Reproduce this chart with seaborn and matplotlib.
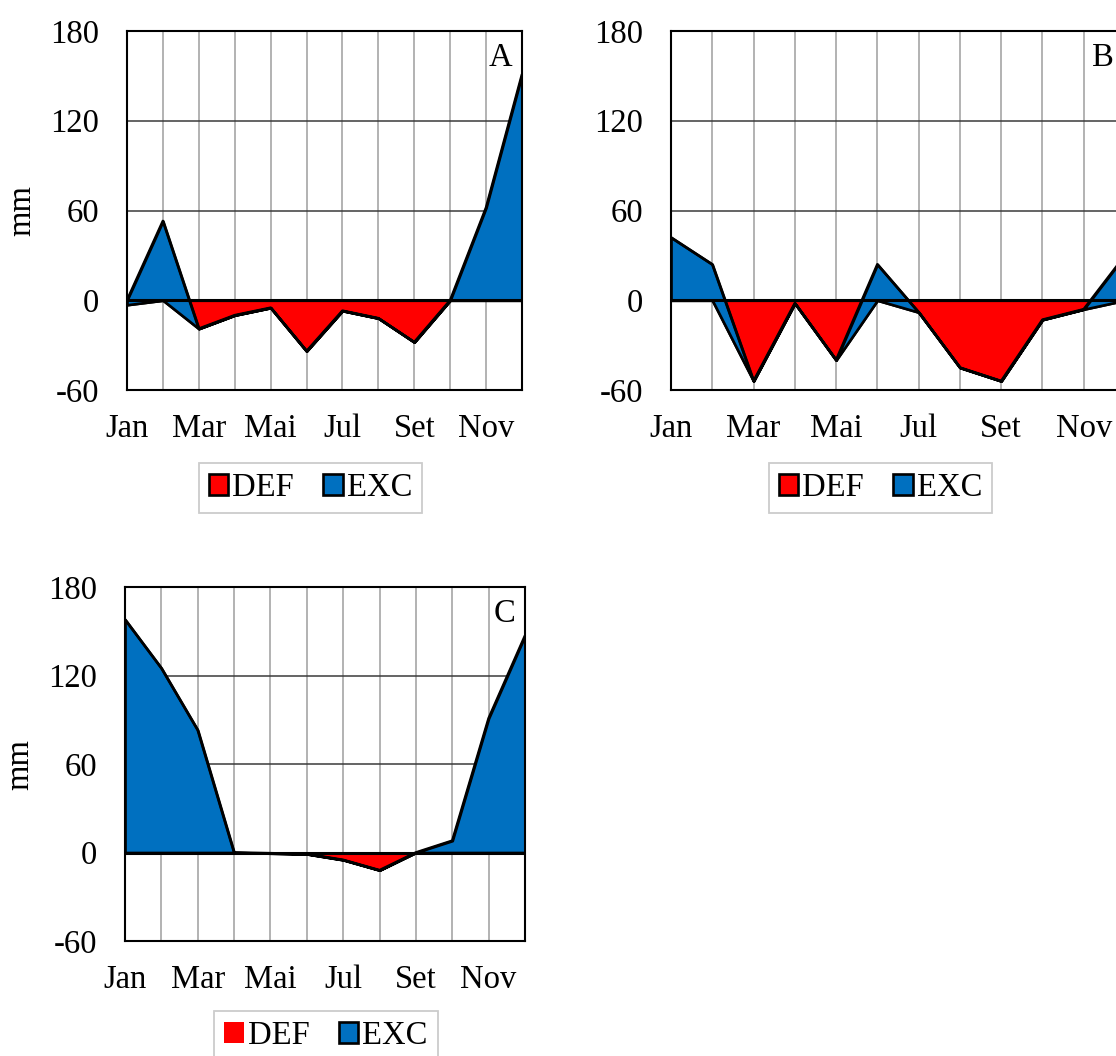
import matplotlib
matplotlib.use("Agg")
import matplotlib.pyplot as plt
from matplotlib.patches import Patch
import numpy as np
import pandas as pd
import seaborn as sns

# ---------------- data ----------------
months = ["Jan", "Fev", "Mar", "Abr", "Mai", "Jun", "Jul", "Ago", "Set", "Out", "Nov", "Dez"]
tick_labels = ["Jan", "", "Mar", "", "Mai", "", "Jul", "", "Set", "", "Nov", ""]

def_A = [-3, 0, -19, -10, -5, -34, -7, -12, -28, 0, 0, 0]
exc_A = [3, 53, 0, 0, 0, 0, 0, 0, 0, 0, 62, 151]

def_B = [0, 0, -54, -2, -40, 0, -8, -45, -54, -13, -6, 0]
exc_B = [42, 24, 0, 0, 0, 24, 0, 0, 0, 0, 0, 30]

def_C = [0, 0, 0, 0, -0.5, -1, -5, -12, 0, 0, 0, 0]
exc_C = [158, 125, 83, 0, 0, 0, 0, 0, 0, 8, 91, 147]

panel_letters = ["A", "B", "C"]
y_ticks = [-60, 0, 60, 120, 180]
series_names = ["DEF", "EXC"]

# ---------------- style ----------------
sns.set_theme(style="white")
plt.rcParams["font.family"] = ["Liberation Serif", "DejaVu Serif"]
for k in ["text.color", "axes.labelcolor", "xtick.color", "ytick.color"]:
    plt.rcParams[k] = "black"
FS = 23.5
RED = "#FF0000"
BLUE = "#0070C0"
LW = 1.9

W, H = 1116, 1056
fig = plt.figure(figsize=(W / 100, H / 100), dpi=100)
fig.patch.set_facecolor("white")

def px_axes(l, t, r, b):
    return [l / W, 1 - b / H, (r - l) / W, (b - t) / H]

panels = [
    (def_A, exc_A, px_axes(127, 31, 522, 390), True, True, (310.5, 488)),
    (def_B, exc_B, px_axes(671, 31, 1125, 390), False, True, (880.5, 488)),
    (def_C, exc_C, px_axes(125, 587, 525, 941), True, False, (326, 1036)),
]

for i, (dv, ev, pos, ylab, def_edge, leg_c) in enumerate(panels):
    ax = fig.add_axes(pos)
    x = np.arange(len(months))
    dv = np.array(dv, dtype=float)
    ev = np.array(ev, dtype=float)
    top = dv + ev
    df = pd.DataFrame({"x": x, "DEF": dv, "TOP": top})

    # gridlines
    for xv in x:
        ax.axvline(xv, color="#a6a6a6", lw=1.2, zorder=0)
    for yv in [60, 120]:
        ax.axhline(yv, color="#3a3a3a", lw=1.1, zorder=0)

    # DEF area (from 0 to DEF)
    ax.fill_between(x, 0, dv, facecolor=RED,
                    edgecolor="black" if def_edge else "none",
                    linewidth=LW if def_edge else 0, zorder=2)
    # EXC area stacked on DEF
    ax.fill_between(x, dv, top, facecolor=BLUE, edgecolor="black",
                    linewidth=LW, zorder=3)
    # outline of top series drawn with seaborn
    sns.lineplot(data=df, x="x", y="TOP", ax=ax, color="black", lw=LW,
                 zorder=4, legend=False)
    ax.axhline(0, color="black", lw=2.2, zorder=5)

    ax.set_xlim(0, 11)
    ax.set_ylim(-60, 180)
    ax.set_yticks(y_ticks)
    ax.set_yticklabels([str(v) for v in y_ticks], fontsize=FS)
    ax.set_xticks(x)
    ax.set_xticklabels(tick_labels, fontsize=FS)
    ax.tick_params(axis="both", length=0, colors="black")
    ax.tick_params(axis="y", pad=20)
    ax.tick_params(axis="x", pad=17)
    ax.set_xlabel("")
    if ylab:
        ax.set_ylabel("mm", fontsize=FS, labelpad=9)
    else:
        ax.set_ylabel("")
    for s in ax.spines.values():
        s.set_visible(True)
        s.set_color("black")
        s.set_linewidth(1.5)
        s.set_zorder(6)

    ax.text(0.975, 0.925, panel_letters[i], transform=ax.transAxes,
            ha="right", va="center", fontsize=FS, color="black", zorder=7)

    handles = [
        Patch(facecolor=RED, edgecolor="black" if def_edge else RED,
              linewidth=LW if def_edge else 0),
        Patch(facecolor=BLUE, edgecolor="black", linewidth=LW),
    ]
    leg = fig.legend(handles, series_names, loc="center",
                     bbox_to_anchor=(leg_c[0] / W, 1 - leg_c[1] / H),
                     ncol=2, fontsize=FS, frameon=True, fancybox=False,
                     edgecolor="#bfbfbf", handlelength=0.6, handleheight=0.6,
                     handletextpad=0.12, columnspacing=0.9, borderpad=0.3,
                     borderaxespad=0)
    leg.get_frame().set_linewidth(1.3)
    for t in leg.get_texts():
        t.set_color("black")

fig.savefig("out.png", dpi=100, facecolor="white")
